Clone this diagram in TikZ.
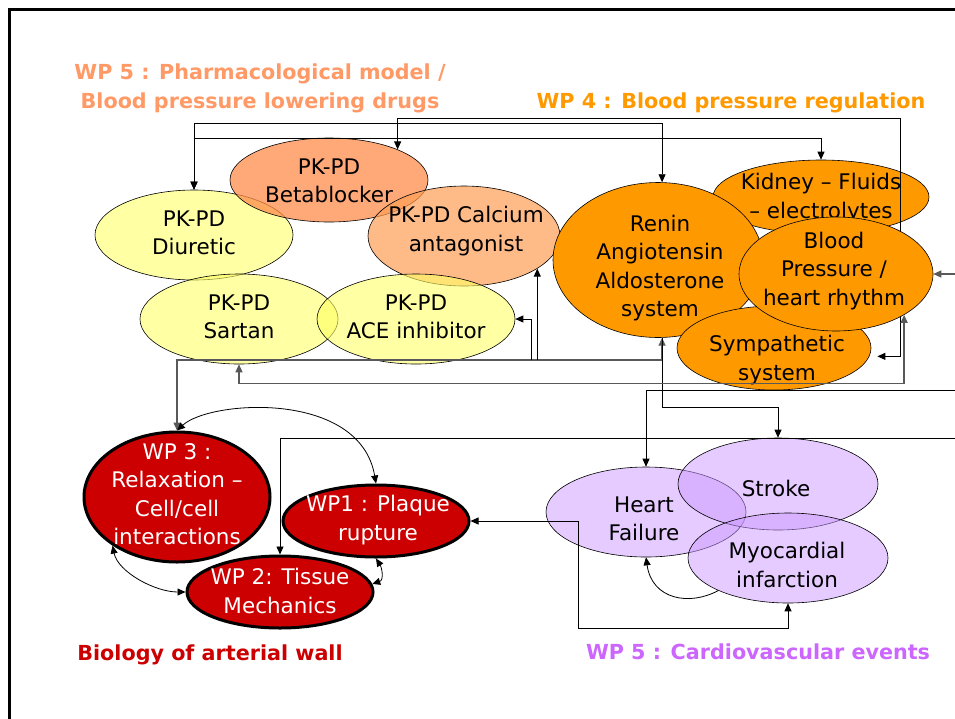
\documentclass[tikz,border=0pt]{standalone}
\usepackage{fontspec}
\setmainfont{DejaVu Sans}
\usetikzlibrary{shapes.geometric,arrows.meta}
\definecolor{cYlw}{HTML}{FFFF66}
\definecolor{cBeta}{HTML}{FF8C4B}
\definecolor{cCalc}{HTML}{FF9F55}
\definecolor{cOrg}{HTML}{FF9900}
\definecolor{cVio}{HTML}{CC99FF}
\definecolor{cRed}{HTML}{CC0000}
\definecolor{tSal}{HTML}{FF9966}
\definecolor{tVio}{HTML}{CC66FF}
\begin{document}
\begin{tikzpicture}[x=1pt,y=-1pt,
  >={Triangle[length=8pt,width=7pt]},
  ell/.style={ellipse, draw=black, line width=0.6pt, inner sep=0pt},
  ylwE/.style={ell, fill=cYlw, fill opacity=0.6},
  betaE/.style={ell, fill=cBeta, fill opacity=0.75},
  calcE/.style={ell, fill=cCalc, fill opacity=0.7},
  orgE/.style={ell, fill=cOrg},
  vioE/.style={ell, fill=cVio, fill opacity=0.5},
  redE/.style={ell, fill=cRed, line width=3pt},
  txt/.style={align=center, inner sep=0pt, font=\fontsize{21.5}{28.5}\selectfont},
  wtxt/.style={txt, text=white},
  ttl/.style={align=center, inner sep=0pt, font=\bfseries\fontsize{20.7}{29}\selectfont},
  conn/.style={draw=black, line width=0.8pt},
  gconn/.style={draw=black!65, line width=1.4pt},
]
\useasboundingbox (0,0) rectangle (955,718);
\clip (0,0) rectangle (955,718);
\fill[white] (0,0) rectangle (955,718);
\draw[line width=3pt] (9,730) -- (9,9) -- (970,9);

% titles
\node[ttl, text=tSal] (t1) at (260,88) {WP 5 : Pharmacological model /\\Blood pressure lowering drugs};
\node[ttl, text=cOrg] (t2) at (731,103) {WP 4 : Blood pressure regulation};
\node[ttl, text=cRed] (t3) at (210,655) {Biology of arterial wall};
\node[ttl, text=tVio] (t4) at (758,652) {WP 5 : Cardiovascular events};

% PK-PD ellipses
\node[ylwE, minimum width=198pt, minimum height=90pt] (diur) at (194,235) {};
\node[betaE, minimum width=198pt, minimum height=84pt] (beta) at (329,180) {};
\node[calcE, minimum width=192pt, minimum height=100pt] (calc) at (464,236) {};
\node[ylwE, minimum width=198pt, minimum height=90pt] (sart) at (239,319) {};
\node[ylwE, minimum width=198pt, minimum height=90pt] (ace) at (416,319) {};
\node[txt] (diurT) at (194,233) {PK-PD\\Diuretic};
\node[txt] (betaT) at (329,181) {PK-PD\\Betablocker};
\node[txt] (calcT) at (466,231) {PK-PD Calcium\\antagonist};
\node[txt] (sartT) at (239,317) {PK-PD\\Sartan};
\node[txt] (aceT) at (416,317) {PK-PD\\ACE inhibitor};

% WP4 ellipses
\node[orgE, minimum width=216pt, minimum height=74pt] (kid) at (821,197) {};
\node[txt] (kidT) at (821,198) {Kidney – Fluids\\– electrolytes};
\node[orgE, minimum width=210pt, minimum height=155pt] (renin) at (658,260) {};
\node[txt] (reninT) at (660,268) {Renin\\Angiotensin\\Aldosterone\\system};
\node[orgE, minimum width=194pt, minimum height=84pt] (symp) at (774,348) {};
\node[txt] (sympT) at (777,360) {Sympathetic\\system};
\draw[conn,<->] (beta.24) |- (900,118) |- ([xshift=8pt]symp.-5);
\node[orgE, minimum width=194pt, minimum height=114pt] (bp) at (836,274) {};
\node[txt] (bpT) at (834,271) {Blood\\Pressure /\\heart rhythm};

% WP5 CV events
\node[vioE, minimum width=200pt, minimum height=90pt] (hf) at (646,512) {};
\node[vioE, minimum width=200pt, minimum height=92pt] (stroke) at (778,484) {};
\node[vioE, minimum width=200pt, minimum height=90pt] (myo) at (788,558) {};
\node[txt] (hfT) at (644,519) {Heart\\Failure};
\node[txt] (strokeT) at (776,488) {Stroke};
\node[txt] (myoT) at (787,565) {Myocardial\\infarction};

% WP1-3
\node[redE, minimum width=186pt, minimum height=130pt] (wp3) at (177,497) {};
\node[redE, minimum width=186pt, minimum height=72pt] (wp1) at (376,521) {};
\node[redE, minimum width=186pt, minimum height=72pt] (wp2) at (280,592) {};
\node[wtxt] (wp3T) at (177,494) {WP 3 :\\Relaxation –\\Cell/cell\\interactions};
\node[wtxt] (wp1T) at (378,520) {WP1 : Plaque\\rupture};
\node[wtxt] (wp2T) at (280,591) {WP 2: Tissue\\Mechanics};

% connectors
\draw[conn,<->] (diur.north) -- ++(0,-66) -| (renin.87);
\draw[conn,<->] (diur.north) -- ++(0,-51) -| (kid.north);
\coordinate (busY) at (0,360);
\draw[gconn,<->] (wp3.north) -- (wp3.north |- busY) -| (renin.-87);
\draw[conn,<-] (ace.east) -- ++(16,0) -- ++(0,41);
\draw[conn,<-] (calc.-24) -- (calc.-24 |- busY);
\draw[conn,->] (renin.-87) -- ++(0,70) -| (stroke.north);
\coordinate (edgeA) at (960,390);
\coordinate (edgeB) at (960,438);
\coordinate (edgeC) at (960,274);
\draw[conn,->] (edgeA) -| (hf.north);
\draw[conn,->] (edgeB) -| (wp2.north);
\draw[gconn,->] (edgeC) -- (bp.east);
\draw[gconn,<->] (sart.south) -- ++(0,19) -| (bp.-31);
\draw[conn,<->] (wp1.east) -- ++(108,0) -- ++(0,107) -| (myo.south);
\draw[conn,->] (myo.205) .. controls (690,606) and (652,600) .. (hf.south);
\draw[conn,<->] (wp3.north) .. controls (210,400) and (360,390) .. (wp1.north);
\draw[conn,<->] (wp3.217) .. controls (118,572) and (155,592) .. (wp2.west);
\draw[conn,<->] (wp2.5) .. controls (384,580) and (382,568) .. (wp1.south);
\end{tikzpicture}
\end{document}
